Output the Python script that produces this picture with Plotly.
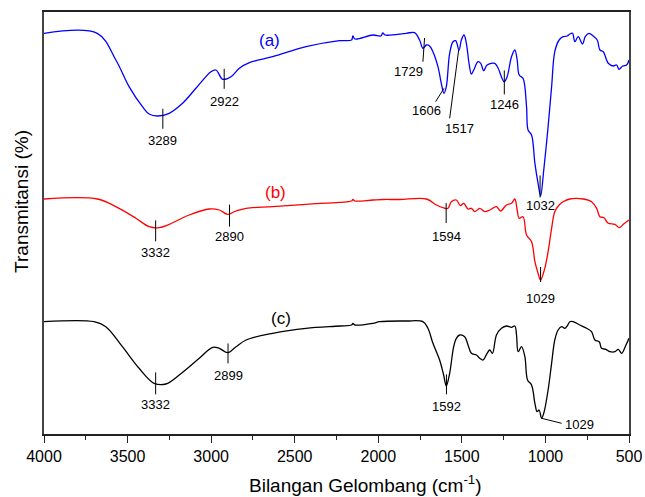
import numpy as np
import plotly.graph_objects as go

# ---------------- data ----------------
# (a) blue spectrum
wn_a = [4000, 3681, 3570, 3491, 3411, 3371, 3321, 3251, 3171, 3091, 3001, 2971, 2931, 2881, 2831,
        2771, 2632, 2432, 2232, 2160, 2152, 2140, 2032, 1985, 1973, 1960, 1832, 1783, 1753, 1733,
        1712, 1693, 1673, 1643, 1623, 1607, 1593, 1573, 1553, 1537, 1517, 1503, 1487, 1473, 1457,
        1443, 1429, 1403, 1387, 1369, 1349, 1303, 1283, 1247, 1229, 1203, 1183, 1169, 1157, 1134,
        1113, 1104, 1083, 1063, 1044, 1029, 1010, 984, 963, 944, 918, 894, 870, 854, 838,
        824, 804, 778, 762, 740, 714, 690, 674, 654, 624, 594, 574, 560, 538, 514, 500]
t_a = [400.7, 400.7, 374, 347.3, 327.3, 320, 318, 320.7, 330.7, 345.7, 362.3, 364, 354.7, 357.3, 365.7,
       371.3, 377.3, 387.3, 393.3, 394, 398, 395, 399, 398, 401, 399, 400.7, 401.3, 394, 385.7,
       389, 388, 382.3, 367.3, 350.7, 340.7, 347.3, 380.7, 392.3, 393.3, 384, 394, 399, 390.7, 370.7,
       360, 364, 372.3, 370.7, 363.3, 369, 370.7, 365.7, 352.3, 357.3, 377.3, 384, 374, 359, 355.7,
       327.3, 304, 299, 270.7, 250.7, 238, 264, 307.3, 347.3, 382.3, 394, 397.3, 398, 400, 400.7,
       392.3, 397.3, 390, 397.3, 400.7, 398, 394, 384, 382.3, 370.7, 368, 369, 364.7, 368, 369, 374]

# (b) red spectrum
wn_b = [4000, 3681, 3570, 3450, 3371, 3311, 3251, 3131, 3011, 2951, 2901, 2851, 2791, 2632, 2432,
        2232, 2160, 2152, 2140, 2032, 1973, 1872, 1712, 1652, 1612, 1583, 1563, 1533, 1509, 1489,
        1463, 1443, 1423, 1393, 1363, 1333, 1293, 1269, 1233, 1203, 1183, 1169, 1157, 1134, 1113,
        1083, 1063, 1044, 1029, 1004, 984, 963, 944, 918, 894, 854, 774, 724, 694, 674,
        650, 624, 584, 558, 534, 500]
t_b = [235, 235, 227.3, 215.7, 207.3, 206.3, 209.7, 219, 225, 224, 219.7, 223, 225.7, 227.3, 229.7,
       231.7, 233, 234.5, 233, 234, 234.5, 234.5, 235, 229, 226.3, 225.7, 232.3, 234, 228.3, 230.7,
       225, 225.7, 222.3, 225.7, 222.3, 224, 227.3, 223, 229, 230.7, 235, 224, 215.7, 217.3, 199,
       192.3, 172.3, 160.7, 154, 165.7, 182.3, 205.7, 222.3, 229, 232.3, 235, 235, 232.3, 225.7, 217.3,
       216.3, 210.7, 209.7, 206.3, 209.7, 214]

# (c) black spectrum
wn_c = [4000, 3700, 3630, 3531, 3431, 3341, 3271, 3191, 3071, 2991, 2951, 2901, 2851, 2791, 2632,
        2432, 2232, 2160, 2152, 2140, 2032, 1992, 1832, 1733, 1703, 1673, 1633, 1609, 1593, 1573,
        1549, 1533, 1513, 1483, 1463, 1443, 1413, 1393, 1373, 1349, 1333, 1317, 1293, 1263, 1233,
        1203, 1183, 1173, 1163, 1143, 1123, 1107, 1083, 1063, 1050, 1038, 1023, 1010, 984, 963,
        944, 924, 903, 884, 870, 854, 834, 794, 754, 724, 704, 678, 664, 638, 614,
        584, 564, 544, 518, 500]
t_c = [112.3, 112.3, 107.3, 87.3, 65.7, 50.7, 50, 59, 75.7, 86.7, 85.7, 81.3, 87.3, 94, 100.7,
       105.7, 108, 109, 110.5, 109, 110.7, 112.3, 113, 112.3, 105.7, 90.7, 74, 59, 48, 60.7,
       87.3, 95.7, 99, 97.3, 89, 80.7, 79, 75.7, 74, 80.7, 84, 80.7, 99, 105.7, 108,
       106.7, 108, 99, 82.3, 87.3, 77.3, 54, 49, 30.7, 22.3, 24, 15.7, 20.7, 44, 70.7,
       94, 104, 107.3, 105.7, 108, 112.3, 112.3, 109, 105.7, 102.3, 94, 92.3, 85.7, 84.7, 82.3,
       82.3, 84.7, 80.7, 89, 95.7]

series_names = ["(a)", "(b)", "(c)"]
series_colors = ["#0000FF", "#FF0000", "#000000"]
series_label_pos = [(2652, 394), (2616, 242), (2580, 116)]

# vertical peak markers: (series index, wavenumber, up, down, label gap)
peak_marks = [
    (0, 3289, 6, 14, 12), (0, 2922, 10, 10, 13), (0, 1246, 11, 13, 10), (0, 1032, 18, 4, 8),
    (1, 3332, 7, 14, 11), (1, 2890, 9, 13, 10), (1, 1594, 5, 15, 13), (1, 1029, 13, 2, 16),
    (2, 3332, 11, 11, 10), (2, 2899, 9, 11, 12), (2, 1592, 11, 9, 12),
]
# slanted leader callouts: text, line start, line end, label position, anchor
callouts = [
    ("1729", (1723, 396), (1733, 372.3), (1819, 362.3), "center"),
    ("1606", (1607, 345.7), (1657, 332.3), (1712, 324), "center"),
    ("1517", (1519, 384), (1573, 315.7), (1517, 305.7), "center"),
    ("1029", (1023, 15.7), (903, 10.7), (894, 10), "left"),
]

x_ticks = [4000, 3500, 3000, 2500, 2000, 1500, 1000, 500]
x_minor = [3750, 3250, 2750, 2250, 1750, 1250, 750]

# ---------------- figure ----------------
FONT = "Liberation Sans, Arial, sans-serif"
fig = go.Figure()
all_wn = [wn_a, wn_b, wn_c]
all_t = [t_a, t_b, t_c]
for wn, t, col in zip(all_wn, all_t, series_colors):
    fig.add_trace(go.Scatter(x=wn, y=t, mode="lines", line=dict(color=col, width=1.3),
                             line_shape="spline", showlegend=False, hoverinfo="skip"))

shapes = []
annots = []
for si, wn, up, down, gap in peak_marks:
    xs = np.array(all_wn[si][::-1], dtype=float)
    ys = np.array(all_t[si][::-1], dtype=float)
    yc = float(np.interp(wn, xs, ys))
    shapes.append(dict(type="line", xref="x", yref="y", x0=wn, x1=wn, y0=yc + up, y1=yc - down,
                       line=dict(color="black", width=1)))
    annots.append(dict(x=wn, y=yc - down - gap, xref="x", yref="y", text=str(wn), showarrow=False,
                       xanchor="center", yanchor="middle", font=dict(family=FONT, size=13, color="black")))

for text, p0, p1, pl, anchor in callouts:
    shapes.append(dict(type="line", xref="x", yref="y", x0=p0[0], y0=p0[1], x1=p1[0], y1=p1[1],
                       line=dict(color="black", width=1)))
    annots.append(dict(x=pl[0], y=pl[1], xref="x", yref="y", text=text, showarrow=False,
                       xanchor=anchor, yanchor="middle", font=dict(family=FONT, size=13, color="black")))

for name, col, (lx, ly) in zip(series_names, series_colors, series_label_pos):
    annots.append(dict(x=lx, y=ly, xref="x", yref="y", text=name, showarrow=False,
                       xanchor="center", yanchor="middle", font=dict(family=FONT, size=17, color=col)))

# axis titles
annots.append(dict(x=0, y=0.55, xref="paper", yref="paper", xshift=-22, text="Transmitansi (%)",
                   textangle=-90, showarrow=False, xanchor="center", yanchor="middle",
                   font=dict(family=FONT, size=19, color="black")))
annots.append(dict(x=0.5, y=-0.118, xref="paper", yref="paper", xshift=29,
                   text="Bilangan Gelombang (cm<sup>-1</sup>)", showarrow=False,
                   xanchor="center", yanchor="middle", font=dict(family=FONT, size=19, color="black")))

fig.update_layout(
    width=645, height=497,
    margin=dict(l=44, r=16, t=12, b=63, autoexpand=False),
    plot_bgcolor="white", paper_bgcolor="white",
    shapes=shapes, annotations=annots,
    xaxis=dict(range=[4000, 500], tickvals=x_ticks, ticktext=[str(v) for v in x_ticks],
               automargin=False,
               ticks="outside", ticklen=7, tickwidth=1.2, tickcolor="#222",
               minor=dict(tickvals=x_minor, ticks="outside",
                          ticklen=4, tickwidth=1.2, tickcolor="#222"),
               showgrid=False, zeroline=False, showline=True, linecolor="#222", linewidth=1.5,
               mirror=True, tickfont=dict(family=FONT, size=16, color="black")),
    yaxis=dict(range=[0, 422], showticklabels=False, ticks="", showgrid=False, zeroline=False,
               automargin=False,
               showline=True, linecolor="#444", linewidth=1.5, mirror=True),
)

fig.write_html("out.html")
